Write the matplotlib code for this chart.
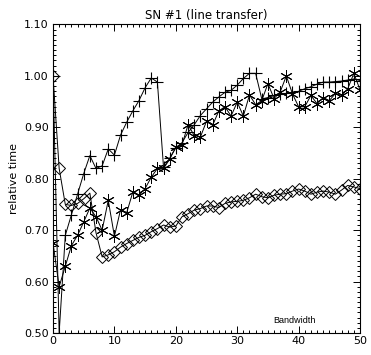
import matplotlib
matplotlib.use("Agg")
import matplotlib.pyplot as plt
from matplotlib.ticker import MultipleLocator

bandwidth = list(range(0, 51))

diamond = [1.00, 0.82, 0.75, 0.748, 0.752, 0.761, 0.772, 0.695, 0.648, 0.652,
           0.658, 0.667, 0.674, 0.680, 0.686, 0.690, 0.697, 0.703, 0.710, 0.706,
           0.708, 0.726, 0.732, 0.739, 0.742, 0.747, 0.747, 0.744, 0.752, 0.755,
           0.756, 0.758, 0.763, 0.770, 0.765, 0.763, 0.768, 0.770, 0.771, 0.776,
           0.780, 0.776, 0.770, 0.774, 0.776, 0.774, 0.770, 0.778, 0.787, 0.784,
           0.781]

plus = [1.00, 0.50, 0.69, 0.73, 0.77, 0.81, 0.845, 0.82, 0.825, 0.858,
        0.846, 0.885, 0.91, 0.932, 0.952, 0.977, 0.996, 0.988, 0.822, 0.840,
        0.860, 0.870, 0.890, 0.905, 0.923, 0.936, 0.949, 0.959, 0.968, 0.972,
        0.982, 0.995, 1.005, 1.005, 0.955, 0.958, 0.962, 0.965, 0.966, 0.968,
        0.970, 0.975, 0.979, 0.984, 0.988, 0.988, 0.989, 0.990, 0.992, 0.994,
        0.991]

asterisk = [0.675, 0.59, 0.63, 0.67, 0.69, 0.716, 0.743, 0.726, 0.700, 0.758,
            0.688, 0.740, 0.734, 0.774, 0.768, 0.781, 0.803, 0.820, 0.820, 0.838,
            0.862, 0.866, 0.905, 0.884, 0.881, 0.912, 0.904, 0.932, 0.940, 0.922,
            0.949, 0.922, 0.963, 0.944, 0.952, 0.985, 0.956, 0.969, 1.000, 0.965,
            0.940, 0.940, 0.962, 0.946, 0.958, 0.952, 0.966, 0.962, 0.975, 1.005,
            0.973]

title = "SN #1 (line transfer)"
ylabel = "relative time"
xnote = "Bandwidth"

plt.rcParams['font.family'] = ['DejaVu Sans']
fig = plt.figure(figsize=(3.71, 3.55), dpi=100)
ax = fig.add_axes([0.1429, 0.062, 0.8275, 0.869])

lw = 0.7
ax.plot(bandwidth, diamond, color='black', lw=lw, marker='D', markersize=6.5,
        markerfacecolor='none', markeredgecolor='black', markeredgewidth=0.7)
ax.plot(bandwidth, plus, color='black', lw=lw, marker='+', markersize=9,
        markeredgewidth=0.8)
ax.plot(bandwidth, asterisk, color='black', lw=lw, marker=(6, 2, 0), markersize=9,
        markeredgewidth=0.7)

ax.set_xlim(0, 50)
ax.set_ylim(0.5, 1.1)
ax.xaxis.set_major_locator(MultipleLocator(10))
ax.xaxis.set_minor_locator(MultipleLocator(1))
ax.yaxis.set_major_locator(MultipleLocator(0.1))
ax.yaxis.set_minor_locator(MultipleLocator(0.01))
ax.set_yticklabels([f"{v:.2f}" for v in ax.get_yticks()])
ax.tick_params(which='both', direction='in', top=True, right=True, width=0.7)
ax.tick_params(which='major', length=5, labelsize=8)
ax.tick_params(which='minor', length=2.5)
ax.tick_params(axis='x', which='major', pad=2)
ax.tick_params(axis='y', which='major', pad=3)
for s in ax.spines.values():
    s.set_linewidth(0.8)

ax.set_title(title, fontsize=8.5, pad=4)
ax.set_ylabel(ylabel, fontsize=8, labelpad=4)
ax.text(39.4, 0.524, xnote, fontsize=6.5, family='Liberation Sans', ha='center', va='center')

fig.savefig("out.png", dpi=100)
